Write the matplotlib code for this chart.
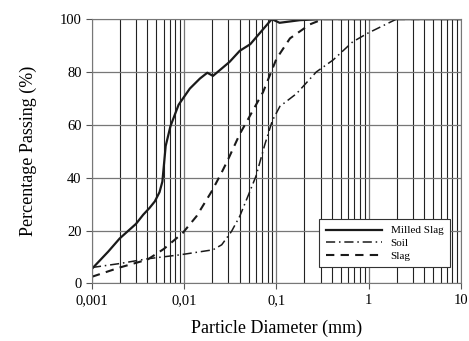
import matplotlib.pyplot as plt
import numpy as np
from matplotlib.ticker import LogLocator, NullFormatter

plt.rcParams['font.family'] = ['Liberation Serif', 'DejaVu Serif']

# grading curves (mm, % passing)
milled_d = [0.001, 0.0015, 0.002, 0.003, 0.0036, 0.0042, 0.0048, 0.0054, 0.0058, 0.006, 0.0063, 0.0071, 0.0087,
            0.0115, 0.0148, 0.0178, 0.0205, 0.031, 0.04, 0.052, 0.089, 0.108, 0.18, 0.3, 10]
milled_p = [5.5, 12, 17, 22.5, 26, 28.5, 31, 34.5, 38.5, 44, 52, 59.5, 67.6,
            73.7, 77.5, 79.7, 78.5, 83.8, 88, 90.5, 100, 98.6, 99.6, 100, 100]

soil_d = [0.001, 0.002, 0.004, 0.009, 0.0205, 0.0255, 0.0326, 0.04, 0.05, 0.06, 0.075, 0.09,
          0.109, 0.165, 0.27, 0.41, 0.67, 0.98, 2, 10]
soil_p = [6, 7.5, 9.3, 10.8, 12.7, 14.6, 19.7, 25.4, 33.7, 40.6, 52.7, 61.5,
          67, 71.8, 80, 84.5, 91.4, 94.7, 100, 100]

slag_d = [0.001, 0.002, 0.004, 0.006, 0.0096, 0.0136, 0.02, 0.0255, 0.03, 0.04, 0.049,
          0.0716, 0.1, 0.14, 0.23, 0.32, 10]
slag_p = [2.5, 6, 9, 13, 19, 25.4, 35, 42, 47, 56.5, 62,
          72.4, 85, 92.7, 98, 100, 100]

x_ticks = [0.001, 0.01, 0.1, 1, 10]
x_labels = ['0,001', '0,01', '0,1', '1', '10']

fig = plt.figure(figsize=(4.69, 3.41), dpi=100)
ax = fig.add_axes([0.196, 0.169, 0.787, 0.775])

ax.plot(milled_d, milled_p, color='#1a1a1a', lw=1.6, label='Milled Slag')
ax.plot(soil_d, soil_p, color='#1a1a1a', lw=1.1, ls=(0, (6, 2.5, 1, 2.5)), label='Soil')
ax.plot(slag_d, slag_p, color='#1a1a1a', lw=1.5, ls=(0, (4, 3)), label='Slag')

ax.set_xscale('log')
ax.set_xlim(0.001, 10)
ax.set_ylim(0, 100)
ax.set_xticks(x_ticks)
ax.set_xticklabels(x_labels)
ax.xaxis.set_minor_locator(LogLocator(base=10, subs=np.arange(2, 10)))
ax.xaxis.set_minor_formatter(NullFormatter())
ax.set_yticks(np.arange(0, 101, 20))

ax.grid(True, which='major', color='#777777', lw=0.9)
ax.grid(True, which='minor', axis='x', color='#222222', lw=0.8)
ax.tick_params(which='minor', length=0)
ax.tick_params(which='major', length=4, color='#555555', labelsize=10.5)
for s in ax.spines.values():
    s.set_color('#777777')

ax.set_xlabel('Particle Diameter (mm)', fontsize=13, labelpad=9)
ax.set_ylabel('Percentage Passing (%)', fontsize=13, labelpad=16)

leg = ax.legend(loc='lower right', bbox_to_anchor=(0.985, 0.04), fontsize=8,
                fancybox=False, framealpha=1, edgecolor='#333333',
                handlelength=5.0, borderpad=0.6, labelspacing=0.25)
leg.get_frame().set_linewidth(0.8)

fig.savefig('out.png', dpi=100)
